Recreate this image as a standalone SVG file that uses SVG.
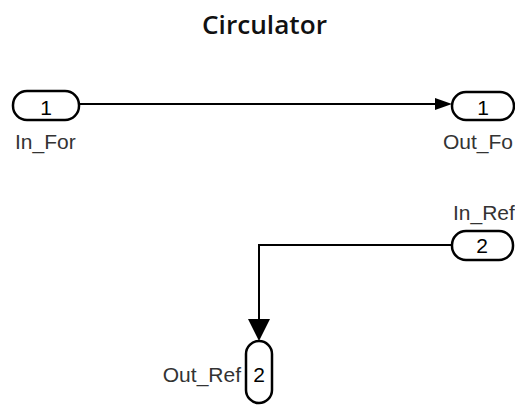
<svg xmlns="http://www.w3.org/2000/svg" width="515" height="406" viewBox="0 0 515 406">
<style>
.blk{fill:#fff;stroke:#000;stroke-width:2.5}
.num{font-family:"Liberation Sans",Arial,sans-serif;font-size:21px;fill:#000;text-anchor:middle}
.lbl{font-family:"Liberation Sans",Arial,sans-serif;font-size:21px;fill:#333}
.ln{fill:none;stroke:#000;stroke-width:2}
.ah{fill:#000}
.title{font-family:"Open Sans",sans-serif;font-weight:600;font-size:26px;fill:#111;text-anchor:middle}
</style>
<rect width="515" height="406" fill="#fff"/>
<text class="title" x="264.5" y="34" textLength="125" lengthAdjust="spacingAndGlyphs">Circulator</text>
<g id="connectors">
<path class="ln" d="M79,104 H437"/>
<polygon class="ah" points="452,104 435,98 435,110"/>
<path class="ln" d="M452,245 H259 V322"/>
<polygon class="ah" points="259,341 248,319 270,319"/>
</g>
<g id="In_For">
<rect class="blk" x="13" y="91" width="66" height="29" rx="14"/>
<text class="num" x="46" y="115">1</text>
<text class="lbl" x="15" y="149">In_For</text>
</g>
<g id="Out_Fo">
<rect class="blk" x="452" y="92" width="62" height="28" rx="14"/>
<text class="num" x="483" y="115">1</text>
<text class="lbl" x="443" y="149">Out_Fo</text>
</g>
<g id="In_Ref">
<rect class="blk" x="452" y="231" width="61" height="29" rx="14"/>
<text class="num" x="482" y="253">2</text>
<text class="lbl" x="453" y="220">In_Ref</text>
</g>
<g id="Out_Ref">
<rect class="blk" x="246" y="341" width="26" height="62" rx="13"/>
<text class="num" x="259" y="382">2</text>
<text class="lbl" x="241" y="382" text-anchor="end">Out_Ref</text>
</g>
</svg>
